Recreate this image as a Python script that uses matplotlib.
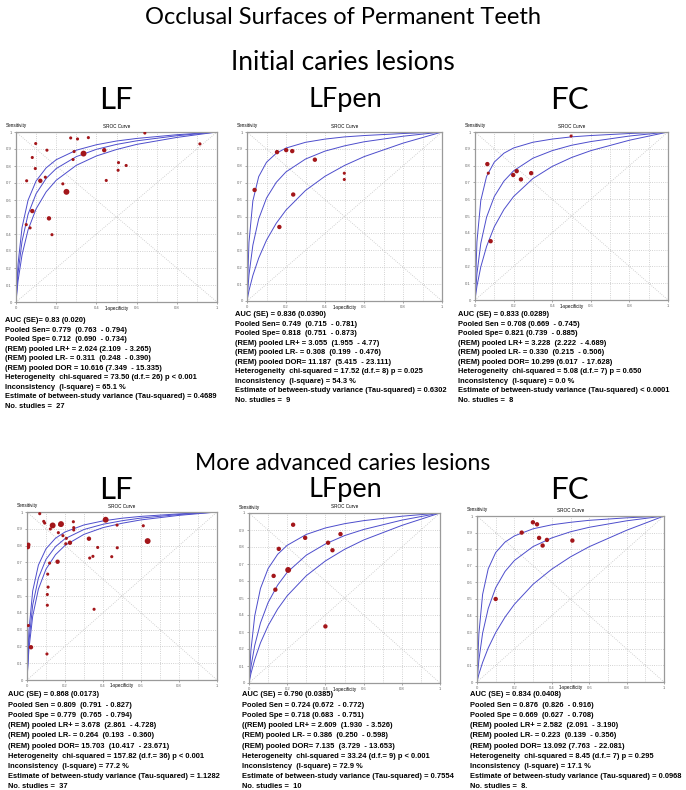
import numpy as np
import matplotlib
matplotlib.use("Agg")
import matplotlib.pyplot as plt
from matplotlib.ticker import FuncFormatter

plt.rcParams['font.family'] = ['Liberation Sans', 'DejaVu Sans']

fpr_grid = [0, 0.01, 0.03, 0.06, 0.1, 0.15, 0.2, 0.3, 0.4, 0.5, 0.6, 0.8, 1.0]

# sensitivity of the three SROC curves (outer, middle, inner) for each panel
lf_init_curves = [
    [0, 0.222, 0.438, 0.599, 0.712, 0.789, 0.837, 0.893, 0.925, 0.947, 0.962, 0.984, 1],
    [0, 0.169, 0.357, 0.516, 0.637, 0.727, 0.785, 0.855, 0.898, 0.927, 0.948, 0.978, 1],
    [0, 0.123, 0.277, 0.424, 0.548, 0.648, 0.716, 0.804, 0.859, 0.897, 0.927, 0.968, 1],
]
lfpen_init_curves = [
    [0, 0.346, 0.592, 0.736, 0.821, 0.874, 0.905, 0.939, 0.958, 0.971, 0.979, 0.991, 1],
    [0, 0.153, 0.330, 0.486, 0.609, 0.702, 0.764, 0.840, 0.887, 0.918, 0.942, 0.975, 1],
    [0, 0.061, 0.151, 0.254, 0.360, 0.460, 0.538, 0.654, 0.738, 0.802, 0.854, 0.934, 1],
]
fc_init_curves = [
    [0, 0.346, 0.592, 0.736, 0.821, 0.874, 0.905, 0.939, 0.958, 0.971, 0.979, 0.991, 1],
    [0, 0.156, 0.337, 0.493, 0.616, 0.708, 0.769, 0.844, 0.889, 0.921, 0.943, 0.976, 1],
    [0, 0.082, 0.197, 0.319, 0.436, 0.539, 0.616, 0.723, 0.795, 0.848, 0.889, 0.951, 1],
]
lf_adv_curves = [
    [0, 0.292, 0.530, 0.684, 0.781, 0.844, 0.881, 0.923, 0.947, 0.963, 0.974, 0.989, 1],
    [0, 0.227, 0.446, 0.607, 0.718, 0.794, 0.841, 0.896, 0.927, 0.948, 0.964, 0.985, 1],
    [0, 0.183, 0.380, 0.541, 0.660, 0.746, 0.801, 0.867, 0.907, 0.933, 0.953, 0.980, 1],
]
lfpen_adv_curves = [
    [0, 0.192, 0.395, 0.556, 0.673, 0.757, 0.810, 0.874, 0.912, 0.937, 0.955, 0.981, 1],
    [0, 0.094, 0.221, 0.353, 0.473, 0.576, 0.651, 0.752, 0.818, 0.867, 0.903, 0.958, 1],
    [0, 0.055, 0.138, 0.236, 0.337, 0.435, 0.513, 0.631, 0.718, 0.786, 0.841, 0.927, 1],
]
fc_adv_curves = [
    [0, 0.290, 0.528, 0.682, 0.780, 0.843, 0.880, 0.923, 0.947, 0.962, 0.974, 0.989, 1],
    [0, 0.132, 0.294, 0.443, 0.568, 0.666, 0.732, 0.816, 0.868, 0.905, 0.932, 0.971, 1],
    [0, 0.047, 0.118, 0.205, 0.298, 0.391, 0.468, 0.589, 0.680, 0.754, 0.815, 0.914, 1],
]

# individual studies: 1-specificity, sensitivity, relative weight (1 small .. 3 big)
lf_init_fpr = [0.098, 0.272, 0.306, 0.360, 0.641, 0.915, 0.154, 0.081, 0.289, 0.336,
               0.439, 0.284, 0.096, 0.510, 0.548, 0.508, 0.053, 0.121, 0.146, 0.449,
               0.233, 0.251, 0.081, 0.164, 0.051, 0.070, 0.179]
lf_init_sens = [0.932, 0.965, 0.959, 0.967, 0.994, 0.930, 0.893, 0.850, 0.885, 0.873,
                0.893, 0.838, 0.785, 0.820, 0.803, 0.775, 0.713, 0.713, 0.734, 0.715,
                0.695, 0.648, 0.535, 0.492, 0.455, 0.436, 0.396]
lf_init_w = [1, 1, 1, 1, 1, 1, 1, 1, 1, 3, 2, 1, 1, 1, 1, 1, 1, 2, 1, 1,
             1, 3, 2, 2, 1, 1, 1]

lfpen_init_fpr = [0.154, 0.201, 0.232, 0.348, 0.039, 0.237, 0.166, 0.499, 0.499]
lfpen_init_sens = [0.881, 0.893, 0.887, 0.836, 0.657, 0.630, 0.438, 0.756, 0.719]
lfpen_init_w = [2, 2, 2, 2, 2, 2, 2, 1, 1]

fc_init_fpr = [0.064, 0.069, 0.198, 0.216, 0.238, 0.291, 0.081, 0.498]
fc_init_sens = [0.809, 0.755, 0.744, 0.767, 0.718, 0.755, 0.350, 0.976]
fc_init_w = [2, 1, 2, 2, 2, 2, 2, 1]

lf_adv_fpr = [0.067, 0.088, 0.093, 0.135, 0.172, 0.179, 0.123, 0.165, 0.244, 0.246,
              0.246, 0.189, 0.207, 0.204, 0.226, 0.414, 0.474, 0.612, 0.326, 0.372,
              0.475, 0.635, 0.007, 0.005, 0.161, 0.119, 0.330, 0.347, 0.446, 0.109,
              0.111, 0.107, 0.107, 0.353, 0.007, 0.021, 0.105]
lf_adv_sens = [0.990, 0.944, 0.934, 0.920, 0.924, 0.928, 0.899, 0.877, 0.942, 0.907,
               0.893, 0.859, 0.843, 0.811, 0.817, 0.954, 0.922, 0.918, 0.841, 0.789,
               0.787, 0.827, 0.805, 0.791, 0.704, 0.696, 0.726, 0.736, 0.734, 0.630,
               0.553, 0.509, 0.445, 0.421, 0.324, 0.195, 0.155]
lf_adv_w = [1, 1, 1, 3, 1, 3, 1, 1, 1, 1, 1, 1, 1, 1, 2, 3, 1, 1, 2, 1,
            1, 3, 2, 2, 2, 1, 1, 1, 1, 1, 1, 1, 1, 1, 1, 2, 1]

lfpen_adv_fpr = [0.231, 0.294, 0.479, 0.414, 0.437, 0.156, 0.205, 0.129, 0.138, 0.400]
lfpen_adv_sens = [0.931, 0.854, 0.876, 0.825, 0.781, 0.789, 0.665, 0.630, 0.549, 0.333]
lfpen_adv_w = [2, 2, 2, 2, 2, 2, 3, 2, 2, 2]

fc_adv_fpr = [0.299, 0.321, 0.239, 0.332, 0.374, 0.351, 0.510, 0.100]
fc_adv_sens = [0.962, 0.950, 0.900, 0.868, 0.856, 0.822, 0.852, 0.500]
fc_adv_w = [2, 2, 2, 2, 2, 2, 2, 2]

lf_init_stats = [
    "AUC (SE)= 0.83 (0.020)",
    "Pooled Sen= 0.779  (0.763  - 0.794)",
    "Pooled Spe= 0.712  (0.690  - 0.734)",
    "(REM) pooled LR+ = 2.624 (2.109  - 3.265)",
    "(REM) pooled LR- = 0.311  (0.248  - 0.390)",
    "(REM) pooled DOR = 10.616 (7.349  - 15.335)",
    "Heterogeneity  chi-squared = 73.50 (d.f.= 26) p < 0.001",
    "Inconsistency  (I-square) = 65.1 %",
    "Estimate of between-study variance (Tau-squared) = 0.4689",
    "No. studies =  27",
]
lfpen_init_stats = [
    "AUC (SE) = 0.836 (0.0390)",
    "Pooled Sen= 0.749  (0.715  - 0.781)",
    "Pooled Spe= 0.818  (0.751  - 0.873)",
    "(REM) pooled LR+ = 3.055  (1.955  - 4.77)",
    "(REM) pooled LR- = 0.308  (0.199  - 0.476)",
    "(REM) pooled DOR= 11.187  (5.415  - 23.111)",
    "Heterogeneity  chi-squared = 17.52 (d.f.= 8) p = 0.025",
    "Inconsistency  (I-square) = 54.3 %",
    "Estimate of between-study variance (Tau-squared) = 0.6302",
    "No. studies =  9",
]
fc_init_stats = [
    "AUC (SE) = 0.833 (0.0289)",
    "Pooled Sen = 0.708 (0.669  - 0.745)",
    "Pooled Spe= 0.821 (0.739  - 0.885)",
    "(REM) pooled LR+ = 3.228  (2.222  - 4.689)",
    "(REM) pooled LR- = 0.330  (0.215  - 0.506)",
    "(REM) pooled DOR= 10.299 (6.017  - 17.628)",
    "Heterogeneity  chi-squared = 5.08 (d.f.= 7) p = 0.650",
    "Inconsistency  (I-square) = 0.0 %",
    "Estimate of between-study variance (Tau-squared) < 0.0001",
    "No. studies =  8",
]
lf_adv_stats = [
    "AUC (SE) = 0.868 (0.0173)",
    "Pooled Sen = 0.809  (0.791  - 0.827)",
    "Pooled Spe = 0.779  (0.765  - 0.794)",
    "(REM) pooled LR+ = 3.678  (2.861  - 4.728)",
    "(REM) pooled LR- = 0.264  (0.193  - 0.360)",
    "(REM) pooled DOR= 15.703  (10.417  - 23.671)",
    "Heterogeneity  chi-squared = 157.82 (d.f.= 36) p < 0.001",
    "Inconsistency  (I-square) = 77.2 %",
    "Estimate of between-study variance (Tau-squared) = 1.1282",
    "No. studies =  37",
]
lfpen_adv_stats = [
    "AUC (SE) = 0.790 (0.0385)",
    "Pooled Sen = 0.724 (0.672  - 0.772)",
    "Pooled Spe = 0.718 (0.683  - 0.751)",
    "((REM) pooled LR+ = 2.609  (1.930  - 3.526)",
    "(REM) pooled LR- = 0.386  (0.250  - 0.598)",
    "(REM) pooled DOR= 7.135  (3.729  - 13.653)",
    "Heterogeneity  chi-squared = 33.24 (d.f.= 9) p < 0.001",
    "Inconsistency  (I-square) = 72.9 %",
    "Estimate of between-study variance (Tau-squared) = 0.7554",
    "No. studies =  10",
]
fc_adv_stats = [
    "AUC (SE) = 0.834 (0.0408)",
    "Pooled Sen = 0.876  (0.826  - 0.916)",
    "Pooled Spe = 0.669  (0.627  - 0.708)",
    "(REM) pooled LR+ = 2.582  (2.091  - 3.190)",
    "(REM) pooled LR- = 0.223  (0.139  - 0.356)",
    "(REM) pooled DOR= 13.092 (7.763  - 22.081)",
    "Heterogeneity  chi-squared = 8.45 (d.f.= 7) p = 0.295",
    "Inconsistency  (I-square) = 17.1 %",
    "Estimate of between-study variance (Tau-squared) = 0.0968",
    "No. studies =  8.",
]

W, H = 686, 790
fig = plt.figure(figsize=(W / 100, H / 100), dpi=100)
fig.patch.set_facecolor('white')


def fx(px):
    return px / W


def fy(py):
    return 1 - py / H


def draw_panel(box, curves, fpr, sens, weights, stats, text_x, text_y, gap):
    left, top, right, bottom = box
    ax = fig.add_axes([fx(left), fy(bottom), (right - left) / W, (bottom - top) / H])
    ax.set_xlim(0, 1)
    ax.set_ylim(0, 1)
    ax.set_xticks(np.arange(0, 1.01, 0.2))
    ax.set_xticks(np.arange(0, 1.01, 0.1), minor=True)
    ax.set_yticks(np.arange(0, 1.01, 0.1))
    fmt = FuncFormatter(lambda v, _: f"{v:g}")
    ax.xaxis.set_major_formatter(fmt)
    ax.yaxis.set_major_formatter(fmt)
    ax.grid(which='both', color='#c4c4c4', linestyle=':', linewidth=0.6)
    ax.tick_params(labelsize=3, length=1.5, width=0.4, colors='#666666', pad=1.5)
    ax.tick_params(which='minor', length=0)
    for s in ax.spines.values():
        s.set_color('#9a9a9a')
        s.set_linewidth(0.9)

    ax.plot([0, 1], [0, 1], color='#c4c4c4', linestyle=':', linewidth=0.6)
    ax.plot([0, 1], [1, 0], color='#c4c4c4', linestyle=':', linewidth=0.6)
    for c in curves:
        ax.plot(fpr_grid, c, color='#4d4dcc', linewidth=0.7)
    sizes = [{1: 5, 2: 10, 3: 18}[w] for w in weights]
    ax.scatter(fpr, sens, s=sizes, color='#a3161a', linewidths=0, zorder=3)

    fig.text(fx(left - 10), fy(top - 6), "Sensitivity", fontsize=3.3, va='center',
             zorder=5)
    fig.text(fx((left + right) / 2), fy(top - 6), "SROC Curve", fontsize=3.3,
             ha='center', va='center', zorder=5)
    fig.text(fx((left + right) / 2), fy(bottom + 6), "1-specificity", fontsize=3.3,
             ha='center', va='center')

    for i, line in enumerate(stats):
        fig.text(fx(text_x), fy(text_y + i * gap), line, fontsize=5.4,
                 fontweight='bold', va='center')


head = dict(family=['Lato', 'DejaVu Sans'], ha='center', va='center')
fig.text(0.5, fy(18), "Occlusal Surfaces of Permanent Teeth", fontsize=17, **head)
fig.text(0.5, fy(62), "Initial caries lesions", fontsize=19, **head)
fig.text(0.5, fy(463), "More advanced caries lesions", fontsize=16.5, **head)
for cx, name, size in [(116, "LF", 22.5), (345, "LFpen", 19.5), (569, "FC", 22.5)]:
    fig.text(fx(cx), fy(100), name, fontsize=size, **head)
    fig.text(fx(cx), fy(490), name, fontsize=size, **head)

draw_panel((16, 132, 217, 302), lf_init_curves, lf_init_fpr, lf_init_sens, lf_init_w,
           lf_init_stats, 5, 321, 9.45)
draw_panel((247, 132, 442, 301), lfpen_init_curves, lfpen_init_fpr, lfpen_init_sens,
           lfpen_init_w, lfpen_init_stats, 235, 315, 9.45)
draw_panel((475, 132, 668, 300), fc_init_curves, fc_init_fpr, fc_init_sens, fc_init_w,
           fc_init_stats, 458, 315, 9.45)
draw_panel((27, 512, 217, 680), lf_adv_curves, lf_adv_fpr, lf_adv_sens, lf_adv_w,
           lf_adv_stats, 8, 695, 10.2)
draw_panel((249, 513, 440, 683), lfpen_adv_curves, lfpen_adv_fpr, lfpen_adv_sens,
           lfpen_adv_w, lfpen_adv_stats, 242, 695, 10.2)
draw_panel((477, 516, 664, 682), fc_adv_curves, fc_adv_fpr, fc_adv_sens, fc_adv_w,
           fc_adv_stats, 470, 695, 10.2)

fig.savefig("out.png", dpi=100)
